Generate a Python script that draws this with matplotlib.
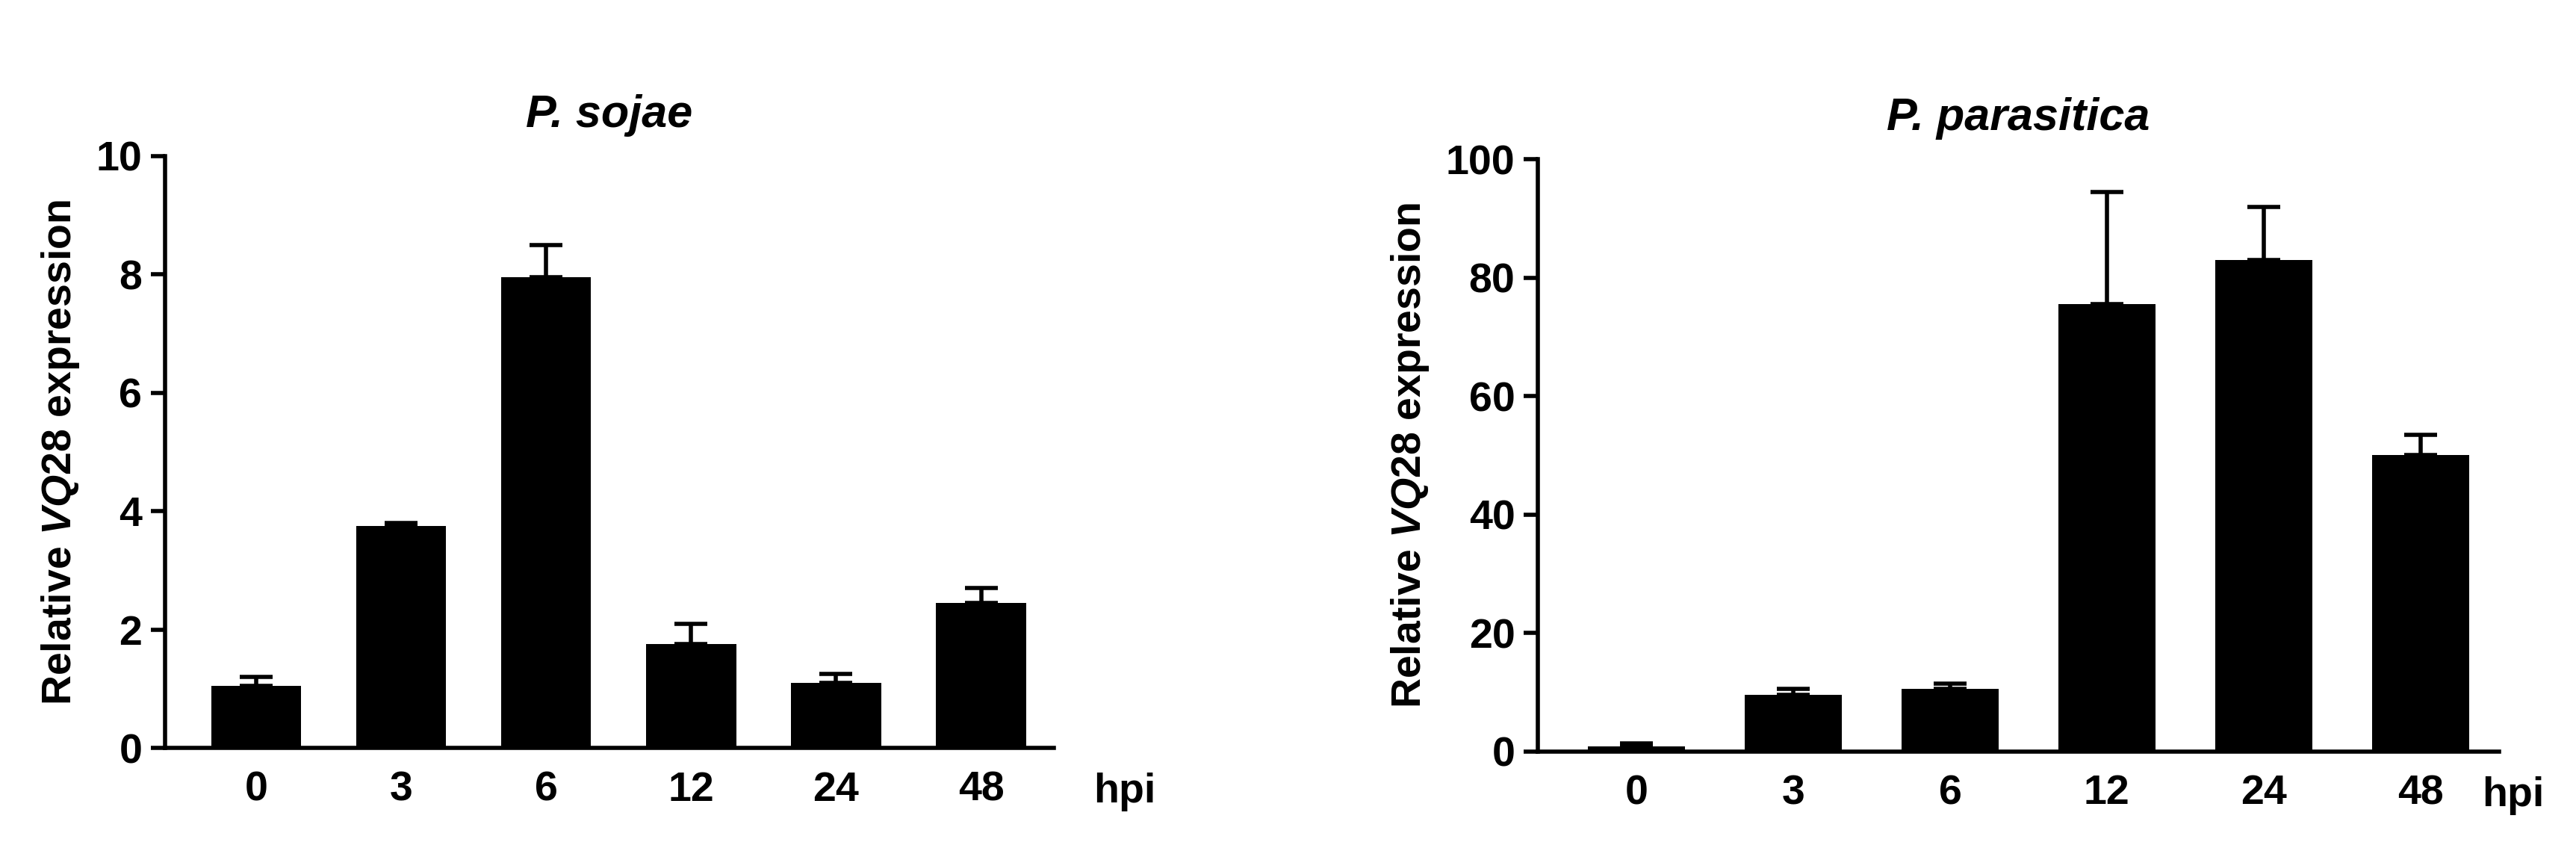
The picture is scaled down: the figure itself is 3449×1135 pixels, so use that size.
import numpy as np
import matplotlib.pyplot as plt

plt.rcParams['font.family'] = ['Liberation Sans', 'DejaVu Sans']
plt.rcParams['font.weight'] = 'bold'
plt.rcParams['mathtext.fontset'] = 'custom'
plt.rcParams['mathtext.it'] = 'Liberation Sans:italic:bold'
plt.rcParams['mathtext.rm'] = 'Liberation Sans:bold'

hpi = ['0', '3', '6', '12', '24', '48']
sojae_mean = [1.05, 3.75, 7.95, 1.75, 1.1, 2.45]
sojae_err = [0.15, 0.05, 0.55, 0.35, 0.15, 0.25]
para_mean = [0.8, 9.5, 10.5, 75.5, 83.0, 50.0]
para_err = [0.6, 1.0, 1.0, 19.0, 9.0, 3.5]

fig = plt.figure(figsize=(34.49, 11.35), dpi=100)
ax1 = fig.add_axes([0.064, 0.118, 0.345, 0.698])
ax2 = fig.add_axes([0.597, 0.114, 0.373, 0.698])

def panel(ax, mean, err, ymax, step, title, hpi_x):
    x = np.arange(len(hpi))
    ax.bar(x, mean, width=0.62, color='black', zorder=2)
    ax.errorbar(x, mean, yerr=[np.zeros(len(err)), err], fmt='none',
                ecolor='black', elinewidth=4, capsize=16, capthick=4, zorder=1)
    ax.set_xlim(-0.63, len(hpi) - 0.5)
    ax.set_ylim(0, ymax)
    ax.set_yticks(np.arange(0, ymax + 1e-9, step))
    ax.set_xticks(x)
    ax.set_xticklabels(hpi)
    for s in ['top', 'right']:
        ax.spines[s].set_visible(False)
    for s in ['left', 'bottom']:
        ax.spines[s].set_linewidth(4)
    ax.tick_params(axis='both', width=4, length=14, labelsize=40, pad=8)
    ax.tick_params(axis='x', length=0, pad=22)
    ax.set_title(title, fontsize=44, fontweight='bold', style='italic', pad=28)
    ax.set_ylabel('Relative $\\it{VQ28}$ expression', fontsize=40,
                  fontweight='bold', labelpad=14)
    ax.text(hpi_x, -0.075, 'hpi', transform=ax.transAxes, fontsize=40,
            ha='center', va='center', fontweight='bold')

panel(ax1, sojae_mean, sojae_err, 10, 2, 'P. sojae', 1.08)
panel(ax2, para_mean, para_err, 100, 20, 'P. parasitica', 1.015)

fig.savefig('out.png', dpi=100)
